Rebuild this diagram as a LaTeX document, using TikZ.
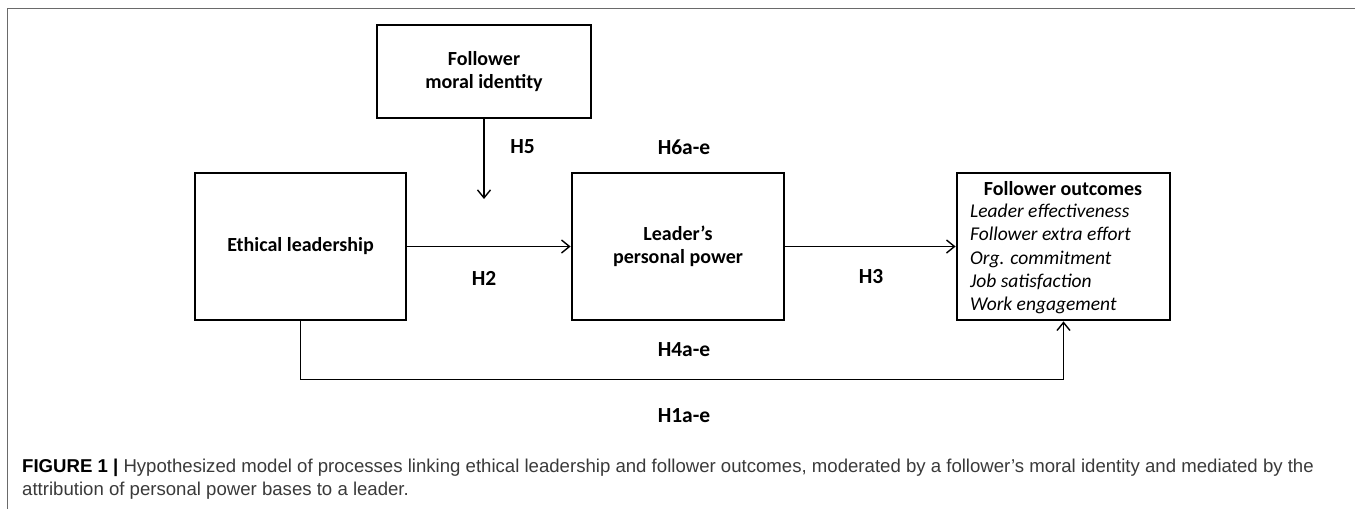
\documentclass[tikz,border=0pt]{standalone}
\usepackage{fontspec}
\setmainfont{Carlito}
\newfontfamily\capfont{Liberation Sans}
\usetikzlibrary{arrows.meta,calc}
\definecolor{framegray}{HTML}{6A6A6A}
\definecolor{captext}{HTML}{3A3A3A}
\begin{document}
\begin{tikzpicture}[x=1pt,y=-1pt,
  box/.style={draw=black, line width=2.8pt, inner sep=0pt, align=center,
    font=\fontsize{20}{23}\selectfont\bfseries},
  hyp/.style={inner sep=0pt, font=\fontsize{21.5}{25}\selectfont\bfseries},
  itemlist/.style={inner sep=0pt, align=left, font=\fontsize{19.5}{23.4}\selectfont\itshape},
  link/.style={line width=1.4pt, -{Straight Barb[length=8pt,width=13pt,line width=1.4pt]}},
  captionline/.style={inner sep=0pt, anchor=base west, text=captext,
    font=\capfont\fontsize{18.6}{23}\selectfont}]

% canvas
\useasboundingbox (0,0) rectangle (1355,509);
\fill[white] (0,0) rectangle (1355,509);

% page frame (top and left rules)
\draw[framegray, line width=1.6pt] (1355,8.3) -- (7.3,8.3) -- (7.3,509);

% constructs
\node[box, minimum width=214pt, minimum height=93pt]  (fmi) at (484,71.5)    {Follower\\moral identity};
\node[box, minimum width=211pt, minimum height=147pt] (eth) at (300.5,246.5) {Ethical leadership};
\node[box, minimum width=212pt, minimum height=147pt] (lpp) at (678,246.5)   {Leader’s\\personal power};
\node[box, minimum width=213pt, minimum height=147pt] (out) at (1063.5,246.5) {};
\node[inner sep=0pt, font=\fontsize{20}{23}\selectfont\bfseries] (outtitle) at (1063,189) {Follower outcomes};
\node[itemlist, anchor=west] (outlist) at (970,259)
  {Leader effectiveness\\Follower extra effort\\Org. commitment\\Job satisfaction\\Work engagement};

% paths
\coordinate (h5end) at (484,199);
\draw[link] (fmi.south) -- (h5end);
\draw[link] (eth.east) -- (lpp.west);
\draw[link] (lpp.east) -- (out.west);
\draw[link] (eth.south) |- ($(out.south)+(0,58)$) -- (out.south);

% hypothesis labels
\node[hyp] (h5)  at (522.5,147) {H5};
\node[hyp] (h6)  at (684,147)   {H6a-e};
\node[hyp] (h2)  at (484,278)   {H2};
\node[hyp] (h3)  at (871,277)   {H3};
\node[hyp] (h4)  at (684,350)   {H4a-e};
\node[hyp] (h1)  at (684,416)   {H1a-e};

% caption
\node[captionline] (cap1) at (22,472)
  {{\bfseries\color{black}FIGURE 1 |} Hypothesized model of processes linking ethical leadership and follower outcomes, moderated by a follower’s moral identity and mediated by the};
\node[captionline] (cap2) at (22,495)
  {attribution of personal power bases to a leader.};
\end{tikzpicture}
\end{document}
